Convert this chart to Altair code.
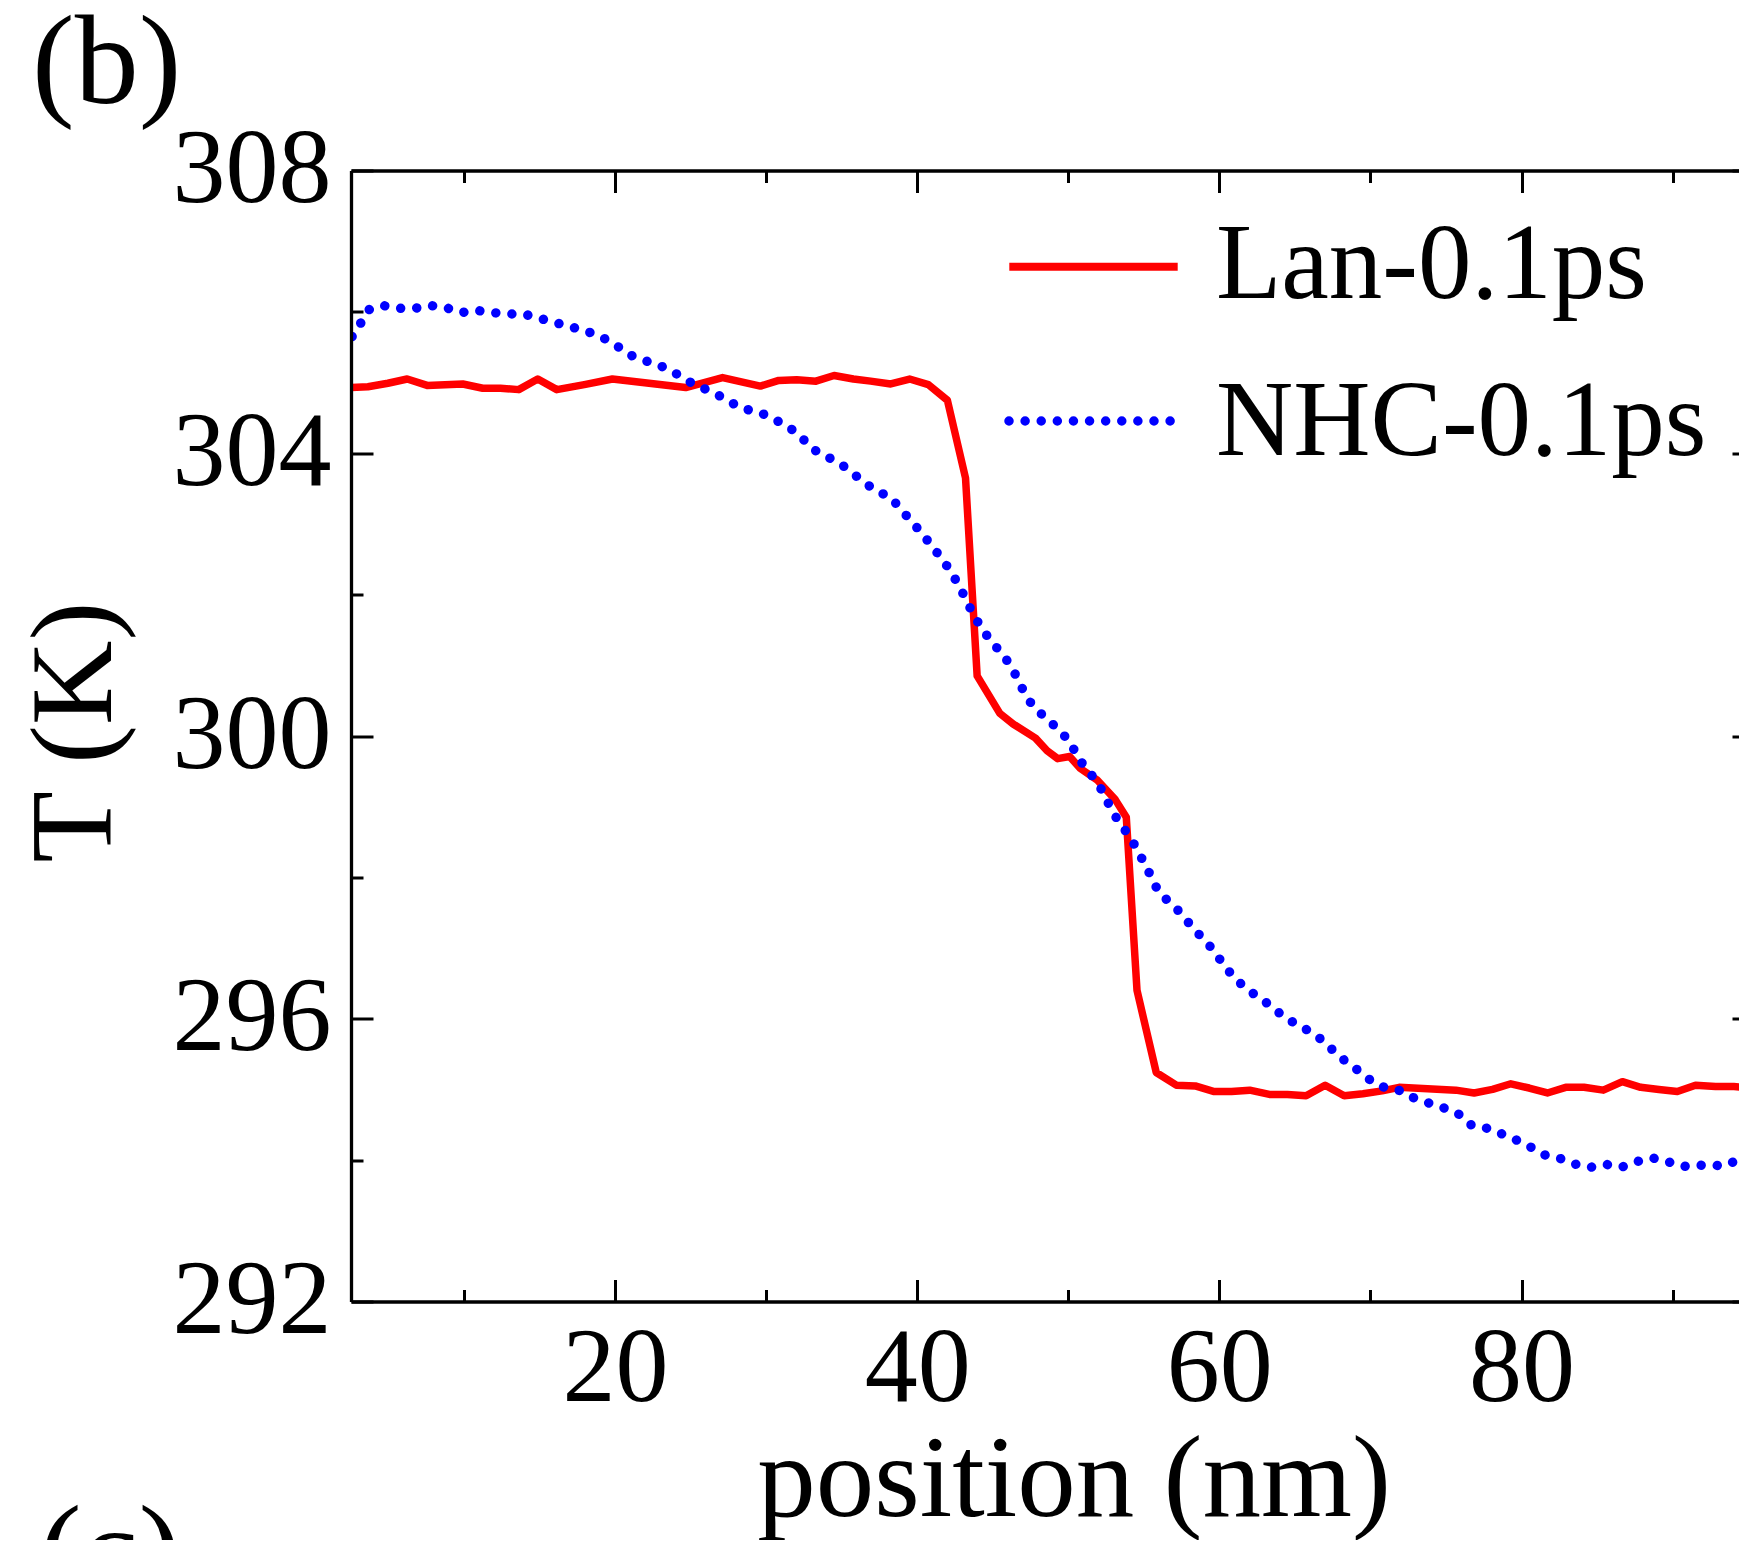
import altair as alt
import pandas as pd

# ---- data ----
# Lan-0.1ps (red solid)
lan_x = [2.55, 3.65, 4.97, 6.25, 7.57, 9.93, 11.25, 12.42, 13.63, 14.89, 16.15, 17.97,
         19.83, 24.68, 27.12, 29.62, 30.84, 32.03, 33.3, 34.5, 35.78, 36.92, 38.25,
         39.5, 40.74, 42.0, 43.2, 43.97, 45.47, 46.35, 47.83, 48.6, 49.3, 50.09, 50.8,
         51.9, 53.11, 53.84, 54.55, 55.82, 57.15, 58.4, 59.66, 60.8, 62.01, 63.31,
         64.5, 65.74, 67.0, 68.26, 69.5, 70.77, 71.9, 75.65, 76.86, 78.08, 79.29,
         80.5, 81.71, 82.92, 84.13, 85.41, 86.67, 87.88, 89.09, 90.31, 91.51, 92.84,
         94.05, 94.92]
lan_T = [304.93, 304.94, 304.99, 305.05, 304.96, 304.98, 304.92, 304.92, 304.90, 305.05,
         304.90, 304.97, 305.05, 304.93, 305.07, 304.95, 305.03, 305.04, 305.02, 305.10,
         305.05, 305.02, 304.98, 305.05, 304.97, 304.75, 303.65, 300.85, 300.32, 300.17,
         299.97, 299.79, 299.68, 299.71, 299.54, 299.38, 299.10, 298.85, 296.40, 295.24,
         295.06, 295.05, 294.97, 294.97, 294.99, 294.93, 294.93, 294.91, 295.06, 294.91,
         294.94, 294.98, 295.03, 294.99, 294.95, 295.00, 295.08, 295.02, 294.95, 295.03,
         295.03, 294.99, 295.11, 295.03, 295.00, 294.97, 295.06, 295.04, 295.04, 295.03]

# NHC-0.1ps (blue dotted)
nhc_x = [2.6, 3.17, 3.70, 4.64, 5.70, 6.74, 7.77, 8.83, 9.82, 10.86, 11.89, 12.91, 13.96,
         15.0, 16.03, 17.05, 18.08, 19.07, 20.0, 20.88, 21.83, 22.86, 23.81, 24.65, 25.62,
         26.61, 27.51, 28.44, 29.47, 30.46, 31.37, 32.25, 32.95, 33.79, 34.76, 35.6, 36.44,
         37.25, 38.24, 38.95, 39.65, 40.34, 41.0, 41.66, 42.25, 42.78, 43.26, 43.75, 44.3,
         44.9, 45.62, 46.22, 46.72, 47.16, 47.78, 48.64, 49.37, 50.09, 50.58, 51.13, 51.81,
         52.34, 52.83, 53.33, 53.99, 54.55, 55.03, 55.54, 55.98, 56.75, 57.52, 58.18, 58.89,
         59.61, 60.23, 60.87, 61.64, 62.48, 63.36, 64.2, 65.03, 66.0, 66.86, 67.63, 68.45,
         69.31, 70.12, 71.0, 72.06, 72.96, 73.98, 74.99, 75.94, 76.71, 77.75, 78.71, 79.7,
         80.65, 81.58, 82.61, 83.6, 84.59, 85.59, 86.62, 87.63, 88.67, 89.66, 90.63, 91.67,
         92.72, 93.78, 94.6, 94.92]
nhc_T = [305.65, 305.84, 306.03, 306.09, 306.05, 306.05, 306.09, 306.06, 305.99, 306.02,
         305.99, 305.97, 305.97, 305.91, 305.85, 305.79, 305.73, 305.65, 305.54, 305.40,
         305.32, 305.25, 305.16, 305.04, 304.94, 304.85, 304.74, 304.63, 304.59, 304.49,
         304.39, 304.25, 304.08, 303.97, 303.88, 303.74, 303.60, 303.47, 303.38, 303.20,
         303.03, 302.86, 302.68, 302.50, 302.32, 302.12, 301.92, 301.70, 301.52, 301.33,
         301.17, 300.98, 300.78, 300.58, 300.39, 300.24, 300.08, 299.93, 299.72, 299.55,
         299.38, 299.19, 298.97, 298.79, 298.60, 298.40, 298.20, 297.99, 297.79, 297.64,
         297.48, 297.30, 297.14, 296.97, 296.78, 296.61, 296.45, 296.32, 296.19, 296.04,
         295.93, 295.82, 295.69, 295.53, 295.38, 295.25, 295.11, 295.02, 294.98, 294.87,
         294.80, 294.73, 294.64, 294.49, 294.45, 294.37, 294.28, 294.18, 294.07, 294.02,
         293.94, 293.90, 293.94, 293.90, 293.98, 294.03, 293.98, 293.91, 293.93, 293.92,
         293.94, 294.07, 294.12]

x_ticks = [10, 20, 30, 40, 50, 60, 70, 80, 90]
y_ticks = [292, 294, 296, 298, 300, 302, 304, 306, 308]
x_domain = [2.53, 94.39]
y_domain = [292, 308]
legend_labels = ["Lan-0.1ps", "NHC-0.1ps"]
panel_labels = ["(b)", "(c)"]
x_title = "position (nm)"
y_title = "T (K)"

FONT = "Liberation Serif"
W, H = 1388, 1131
RED = "#FF0000"
BLUE = "#0000FF"

lan_df = pd.DataFrame({"position": lan_x, "T": lan_T})
nhc_df = pd.DataFrame({"position": nhc_x, "T": nhc_T})

xscale = alt.Scale(domain=x_domain, nice=False, zero=False)
yscale = alt.Scale(domain=y_domain, nice=False, zero=False)

common = dict(domainColor="black", domainWidth=3.3, tickColor="black", tickWidth=3,
              grid=False, labelFont=FONT, labelFontSize=106, labelColor="black",
              labelFlush=False, labelOverlap=False, titleFont=FONT, titleFontSize=117,
              titleFontWeight="normal", titleColor="black", zindex=1)

x_bottom = alt.Axis(orient="bottom", values=x_ticks,
                    tickSize=alt.ExprRef(expr="datum.value % 20 == 0 ? -22 : -12"),
                    labelExpr="datum.value % 20 == 0 ? datum.label : ''",
                    labelPadding=121, labelBaseline="alphabetic", labelAlign="center",
                    title=x_title, titleX=722.5, titleY=213.5, titleBaseline="alphabetic",
                    titleAlign="center", titleAngle=0, **common)
y_left = alt.Axis(orient="left", values=y_ticks,
                  tickSize=alt.ExprRef(expr="datum.value % 4 == 0 ? -22 : -12"),
                  labelExpr="datum.value % 4 == 0 ? datum.label : ''",
                  labelPadding=42, labelAlign="right", labelBaseline="alphabetic",
                  labelOffset=31,
                  title=y_title, titleX=-241, titleY=561, titleAngle=270,
                  titleBaseline="alphabetic", titleAlign="center", **common)
x_top = alt.Axis(orient="top", values=x_ticks,
                 tickSize=alt.ExprRef(expr="datum.value % 20 == 0 ? -22 : -12"),
                 labels=False, title=None, **common)
y_right = alt.Axis(orient="right", values=y_ticks, domain=False,
                   tickSize=alt.ExprRef(expr="datum.value % 4 == 0 ? -7 : 0"),
                   labels=False, title=None, **common)

red = alt.Chart(lan_df).mark_line(color=RED, strokeWidth=7.5, clip=True,
                                  strokeJoin="round").encode(
    x=alt.X("position:Q", scale=xscale, axis=x_bottom),
    y=alt.Y("T:Q", scale=yscale, axis=y_left),
)
blue = alt.Chart(nhc_df).mark_line(color=BLUE, strokeWidth=9.5, clip=True,
                                   strokeDash=[0.01, 16.1], strokeCap="round",
                                   strokeJoin="round").encode(
    x=alt.X("position:Q", scale=xscale, axis=x_top),
    y=alt.Y("T:Q", scale=yscale, axis=y_right),
)

leg1 = pd.DataFrame({"label": [legend_labels[0]]})
leg2 = pd.DataFrame({"label": [legend_labels[1]]})

leg_red = alt.Chart(leg1).mark_rule(color=RED, strokeWidth=8).encode(
    x=alt.value(658.3), x2=alt.value(826.7), y=alt.value(96.2))
leg_red_t = alt.Chart(leg1).mark_text(align="left", baseline="alphabetic", font=FONT,
                                      fontSize=107, color="black").encode(
    x=alt.value(865), y=alt.value(127.8), text="label:N")
leg_blue = alt.Chart(leg2).mark_rule(color=BLUE, strokeWidth=9.5, strokeDash=[0.01, 16.1],
                                     strokeCap="round").encode(
    x=alt.value(658), x2=alt.value(819.3), y=alt.value(250.5))
leg_blue_t = alt.Chart(leg2).mark_text(align="left", baseline="alphabetic", font=FONT,
                                       fontSize=107, color="black").encode(
    x=alt.value(865), y=alt.value(284.5), text="label:N")

lab_b = alt.Chart(pd.DataFrame({"label": [panel_labels[0]]})).mark_text(
    align="left", baseline="alphabetic", font=FONT, fontSize=128, color="black").encode(
    x=alt.value(-319), y=alt.value(-67.5), text="label:N")
lab_c = alt.Chart(pd.DataFrame({"label": [panel_labels[1]]})).mark_text(
    align="left", baseline="alphabetic", font=FONT, fontSize=128, color="black").encode(
    x=alt.value(-312), y=alt.value(1422.5), text="label:N")

chart = alt.layer(red, blue, leg_red, leg_red_t, leg_blue, leg_blue_t, lab_b, lab_c).resolve_axis(
    x="independent", y="independent"
).properties(
    width=W, height=H,
    padding={"left": 343, "top": 162.5, "right": 0, "bottom": 238.5},
    autosize=alt.AutoSizeParams(type="none"),
    background="white",
).configure_view(strokeWidth=0)

chart.save("out.html", embed_options={"renderer": "svg", "actions": False})
